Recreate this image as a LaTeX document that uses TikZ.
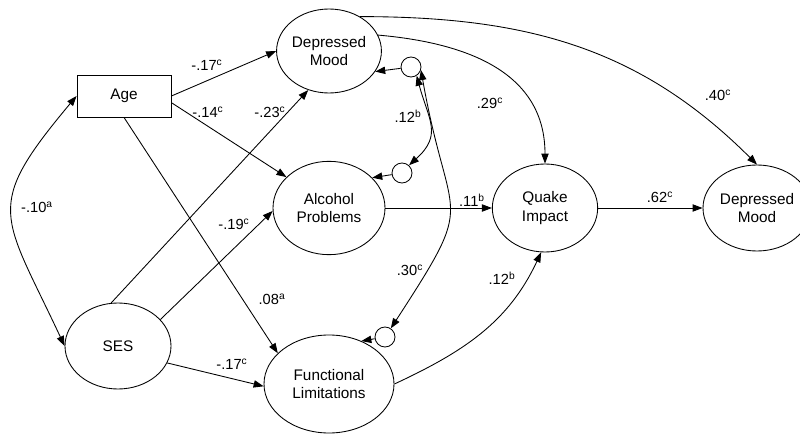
\documentclass[tikz,border=0pt]{standalone}
\usepackage{fontspec}
\setmainfont{Liberation Sans}
\usetikzlibrary{arrows.meta,shapes.geometric}
\newcommand{\sig}[1]{\textsuperscript{#1}}

\begin{document}
\begin{tikzpicture}[x=0.75pt, y=0.75pt,
    latent/.style={ellipse, draw, line width=0.65pt, align=center, inner sep=0pt,
        font=\fontsize{11.5}{14}\selectfont},
    observed/.style={rectangle, draw, line width=0.65pt, minimum width=70.5pt,
        minimum height=31.5pt, font=\fontsize{11.5}{14}\selectfont},
    resid/.style={circle, draw, line width=0.65pt, minimum size=15pt, inner sep=0pt},
    effect/.style={-{Triangle[length=7.5pt,width=5.5pt]}, line width=0.65pt},
    covar/.style={{Triangle[length=7.5pt,width=5.5pt]}-{Triangle[length=7.5pt,width=5.5pt]},
        line width=0.65pt},
    coef/.style={font=\fontsize{11}{13}\selectfont, inner sep=1pt}]
    \useasboundingbox (0,0) rectangle (800,-435);

    % variables
    \node[observed] (age) at (124,-96) {Age};
    \node[latent, minimum width=79.5pt, minimum height=64.5pt] (ses) at (118,-346) {SES};
    \node[latent, minimum width=78pt, minimum height=63pt] (dm1) at (329,-51) {Depressed\\Mood};
    \node[latent, minimum width=84pt, minimum height=70pt] (alc) at (329,-208) {Alcohol\\Problems};
    \node[latent, minimum width=97.5pt, minimum height=73.5pt] (func) at (329,-384) {Functional\\Limitations};
    \node[latent, minimum width=79pt, minimum height=66pt] (quake) at (545,-208) {Quake\\Impact};
    \node[latent, minimum width=81pt, minimum height=64.5pt] (dm2) at (757,-208) {Depressed\\Mood};

    % residuals
    \node[resid] (e1) at (411,-67) {};
    \node[resid] (e2) at (402,-173) {};
    \node[resid] (e3) at (385,-337) {};

    % paths
    \draw[effect] (age.east) -- (dm1.west);
    \draw[effect] (age.-8) -- (alc.144);
    \draw[effect] (age.south) -- (func.149);
    \draw[effect] (ses.99) -- (dm1.242);
    \draw[effect] (ses.32) -- (alc.183);
    \draw[effect] (ses.-19) -- (func.182);
    \draw[covar] (age.west) to[out=230, in=115, looseness=1.5] (ses.west);
    \draw[effect] (alc.east) -- (quake.west);
    \draw[effect] (quake.east) -- (dm2.west);
    \draw[effect] (dm1.18) to[out=-5, in=90, looseness=1.1] (quake.north);
    \draw[effect] (dm1.48) to[out=0, in=135] (dm2.north);
    \draw[effect] (func.east) to[out=25, in=245] (quake.265);
    \foreach \e/\v/\a in {e1/dm1/-24, e2/alc/35, e3/func/53}
        \draw[effect] (\e) -- (\v.\a);
    \draw[covar] (e1.-57) to[out=-75, in=42, looseness=1.3] (e2.48);
    \draw[covar] (e1.-17) to[out=-80, in=57, looseness=1.6] (e3.56);

    % coefficients
    \node[coef] (c1) at (207,-65) {-.17\sig{c}};
    \node[coef] (c2) at (208,-112) {-.14\sig{c}};
    \node[coef] (c3) at (270,-112) {-.23\sig{c}};
    \node[coef] (c4) at (37,-207) {-.10\sig{a}};
    \node[coef] (c5) at (234,-224) {-.19\sig{c}};
    \node[coef] (c6) at (272,-299) {.08\sig{a}};
    \node[coef] (c7) at (232,-364) {-.17\sig{c}};
    \node[coef] (c8) at (408,-116) {.12\sig{b}};
    \node[coef] (c9) at (490,-103) {.29\sig{c}};
    \node[coef] (c10) at (718,-95) {.40\sig{c}};
    \node[coef] (c11) at (472,-200) {.11\sig{b}};
    \node[coef] (c12) at (660,-197) {.62\sig{c}};
    \node[coef] (c13) at (410,-270) {.30\sig{c}};
    \node[coef] (c14) at (502,-278) {.12\sig{b}};
\end{tikzpicture}
\end{document}
